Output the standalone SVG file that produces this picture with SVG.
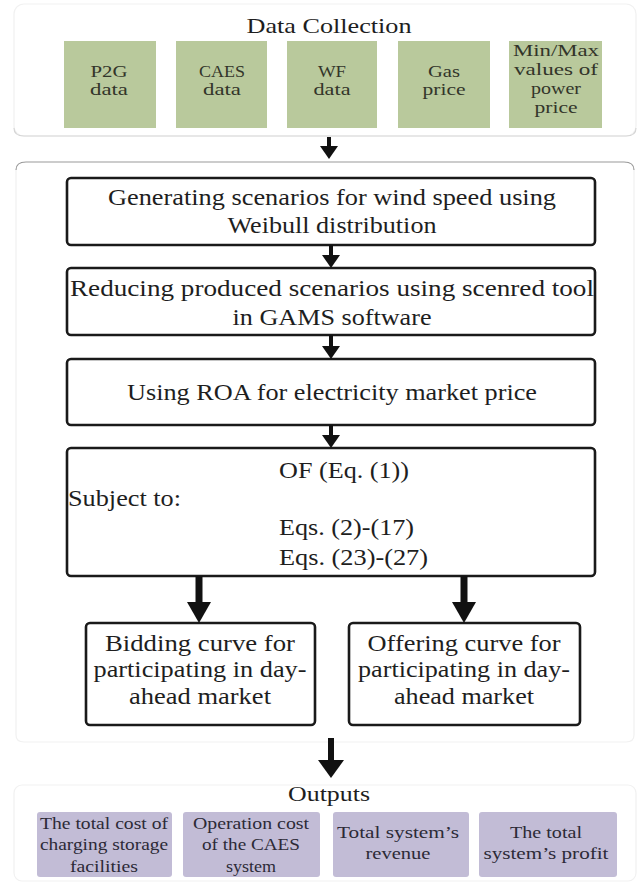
<svg xmlns="http://www.w3.org/2000/svg" width="642" height="884" viewBox="0 0 642 884" font-family="'Liberation Serif','Times New Roman',serif">
<style>
text{font-family:"Liberation Serif","Times New Roman",serif;fill:#1e1e1e}
.ttl{font-size:21px}
.g{fill:#b9c99c}
.gt{font-size:16px;fill:#33352a}
.p{fill:#c2bcd6}
.pt{font-size:16px;fill:#2c2a36}
.box{fill:#fff;stroke:#1a1a1a;stroke-width:2.6}
.bt{font-size:23px}
.ct{fill:none;stroke:#f1f1f1;stroke-width:1.2}
.cb{fill:none;stroke:#d6d6d6;stroke-width:1.2}
.sep{fill:none;stroke:#9a9a9a;stroke-width:1.2}
.sh{stroke:#111;fill:none}
.hd{fill:#111}
</style>
<g id="containers">
<rect class="ct" x="14" y="4" width="622" height="132" rx="10"/>
<path class="cb" d="M14,128 Q14,136 24,136 L626,136 Q636,136 636,128"/>
<path class="sep" d="M16,170 Q16,162 26,162 L624,162 Q634,162 634,170"/>
<path class="ct" d="M16,170 L16,735 Q16,742 24,742 L626,742 Q634,742 634,735 L634,170"/>
<rect class="ct" x="14" y="785" width="622" height="96" rx="8"/>
</g>
<g id="data-collection">
<text class="ttl" x="329" y="33" text-anchor="middle" textLength="165" lengthAdjust="spacingAndGlyphs">Data Collection</text>
</g>
<g id="p2g">
<rect class="g" x="64" y="41" width="92" height="87"/>
<text class="gt" x="109" y="77" text-anchor="middle" textLength="37" lengthAdjust="spacingAndGlyphs">P2G</text>
<text class="gt" x="109" y="95" text-anchor="middle" textLength="38" lengthAdjust="spacingAndGlyphs">data</text>
</g>
<g id="caes">
<rect class="g" x="176" y="41" width="91" height="87"/>
<text class="gt" x="222" y="77" text-anchor="middle" textLength="46" lengthAdjust="spacingAndGlyphs">CAES</text>
<text class="gt" x="222" y="95" text-anchor="middle" textLength="38" lengthAdjust="spacingAndGlyphs">data</text>
</g>
<g id="wf">
<rect class="g" x="287" y="41" width="90" height="87"/>
<text class="gt" x="332" y="77" text-anchor="middle" textLength="28" lengthAdjust="spacingAndGlyphs">WF</text>
<text class="gt" x="332" y="95" text-anchor="middle" textLength="37" lengthAdjust="spacingAndGlyphs">data</text>
</g>
<g id="gas">
<rect class="g" x="398" y="41" width="92" height="87"/>
<text class="gt" x="444" y="77" text-anchor="middle" textLength="32" lengthAdjust="spacingAndGlyphs">Gas</text>
<text class="gt" x="444" y="95" text-anchor="middle" textLength="43" lengthAdjust="spacingAndGlyphs">price</text>
</g>
<g id="minmax">
<rect class="g" x="509" y="41" width="93" height="87"/>
<text class="gt" x="556" y="56" text-anchor="middle" textLength="86" lengthAdjust="spacingAndGlyphs">Min/Max</text>
<text class="gt" x="556" y="75" text-anchor="middle" textLength="84" lengthAdjust="spacingAndGlyphs">values of</text>
<text class="gt" x="556" y="94" text-anchor="middle" textLength="50" lengthAdjust="spacingAndGlyphs">power</text>
<text class="gt" x="556" y="113" text-anchor="middle" textLength="43" lengthAdjust="spacingAndGlyphs">price</text>
</g>
<g id="generate">
<rect class="box" x="67" y="178" width="528" height="67" rx="4"/>
<text class="bt" x="332" y="205" text-anchor="middle" textLength="448" lengthAdjust="spacingAndGlyphs">Generating scenarios for wind speed using</text>
<text class="bt" x="332" y="233" text-anchor="middle" textLength="209" lengthAdjust="spacingAndGlyphs">Weibull distribution</text>
</g>
<g id="reduce">
<rect class="box" x="67" y="268" width="528" height="67" rx="4"/>
<text class="bt" x="332" y="296" text-anchor="middle" textLength="524" lengthAdjust="spacingAndGlyphs">Reducing produced scenarios using scenred tool</text>
<text class="bt" x="332" y="325" text-anchor="middle" textLength="199" lengthAdjust="spacingAndGlyphs">in GAMS software</text>
</g>
<g id="roa">
<rect class="box" x="67" y="359" width="528" height="66" rx="4"/>
<text class="bt" x="332" y="400" text-anchor="middle" textLength="410" lengthAdjust="spacingAndGlyphs">Using ROA for electricity market price</text>
</g>
<g id="of">
<rect class="box" x="67" y="448" width="528" height="128" rx="4"/>
<text class="bt" x="279" y="478" textLength="130" lengthAdjust="spacingAndGlyphs">OF (Eq. (1))</text>
<text class="bt" x="68" y="506" textLength="113" lengthAdjust="spacingAndGlyphs">Subject to:</text>
<text class="bt" x="279" y="535" textLength="135" lengthAdjust="spacingAndGlyphs">Eqs. (2)-(17)</text>
<text class="bt" x="279" y="565" textLength="149" lengthAdjust="spacingAndGlyphs">Eqs. (23)-(27)</text>
</g>
<g id="bidding">
<rect class="box" x="86" y="623" width="229" height="102" rx="4"/>
<text class="bt" x="200" y="651" text-anchor="middle" textLength="190" lengthAdjust="spacingAndGlyphs">Bidding curve for</text>
<text class="bt" x="200" y="677" text-anchor="middle" textLength="213" lengthAdjust="spacingAndGlyphs">participating in day-</text>
<text class="bt" x="200" y="704" text-anchor="middle" textLength="142" lengthAdjust="spacingAndGlyphs">ahead market</text>
</g>
<g id="offering">
<rect class="box" x="349" y="623" width="231" height="102" rx="4"/>
<text class="bt" x="464" y="651" text-anchor="middle" textLength="193" lengthAdjust="spacingAndGlyphs">Offering curve for</text>
<text class="bt" x="464" y="677" text-anchor="middle" textLength="212" lengthAdjust="spacingAndGlyphs">participating in day-</text>
<text class="bt" x="464" y="704" text-anchor="middle" textLength="140" lengthAdjust="spacingAndGlyphs">ahead market</text>
</g>
<g id="outputs">
<text class="ttl" x="329" y="801" text-anchor="middle" textLength="82" lengthAdjust="spacingAndGlyphs">Outputs</text>
</g>
<g id="out-charging">
<rect class="p" x="37" y="812" width="135" height="65" rx="3"/>
<text class="pt" x="104" y="829" text-anchor="middle" textLength="128" lengthAdjust="spacingAndGlyphs">The total cost of</text>
<text class="pt" x="104" y="850" text-anchor="middle" textLength="128" lengthAdjust="spacingAndGlyphs">charging storage</text>
<text class="pt" x="104" y="872" text-anchor="middle" textLength="68" lengthAdjust="spacingAndGlyphs">facilities</text>
</g>
<g id="out-operation">
<rect class="p" x="183" y="812" width="137" height="65" rx="3"/>
<text class="pt" x="251" y="829" text-anchor="middle" textLength="116" lengthAdjust="spacingAndGlyphs">Operation cost</text>
<text class="pt" x="251" y="850" text-anchor="middle" textLength="98" lengthAdjust="spacingAndGlyphs">of the CAES</text>
<text class="pt" x="251" y="872" text-anchor="middle" textLength="50" lengthAdjust="spacingAndGlyphs">system</text>
</g>
<g id="out-revenue">
<rect class="p" x="333" y="812" width="136" height="65" rx="3"/>
<text class="pt" x="398" y="838" text-anchor="middle" textLength="122" lengthAdjust="spacingAndGlyphs">Total system’s</text>
<text class="pt" x="398" y="859" text-anchor="middle" textLength="65" lengthAdjust="spacingAndGlyphs">revenue</text>
</g>
<g id="out-profit">
<rect class="p" x="479" y="812" width="138" height="65" rx="3"/>
<text class="pt" x="546" y="838" text-anchor="middle" textLength="72" lengthAdjust="spacingAndGlyphs">The total</text>
<text class="pt" x="546" y="859" text-anchor="middle" textLength="125" lengthAdjust="spacingAndGlyphs">system’s profit</text>
</g>
<g id="connectors">
<line class="sh" x1="329" y1="137" x2="329" y2="148" stroke-width="4"/>
<polygon class="hd" points="320,146 338,146 329,159"/>
<line class="sh" x1="331" y1="245" x2="331" y2="257" stroke-width="4"/>
<polygon class="hd" points="322,255 340,255 331,268"/>
<line class="sh" x1="331" y1="335" x2="331" y2="348" stroke-width="4"/>
<polygon class="hd" points="322,346 340,346 331,359"/>
<line class="sh" x1="331" y1="425" x2="331" y2="437" stroke-width="4"/>
<polygon class="hd" points="322,435 340,435 331,448"/>
<line class="sh" x1="199" y1="576" x2="199" y2="604" stroke-width="7"/>
<polygon class="hd" points="187,602 211,602 199,623"/>
<line class="sh" x1="464" y1="576" x2="464" y2="604" stroke-width="7"/>
<polygon class="hd" points="452,602 476,602 464,623"/>
<line class="sh" x1="331" y1="738" x2="331" y2="762" stroke-width="6"/>
<polygon class="hd" points="318,760 344,760 331,778"/>
</g>
</svg>
